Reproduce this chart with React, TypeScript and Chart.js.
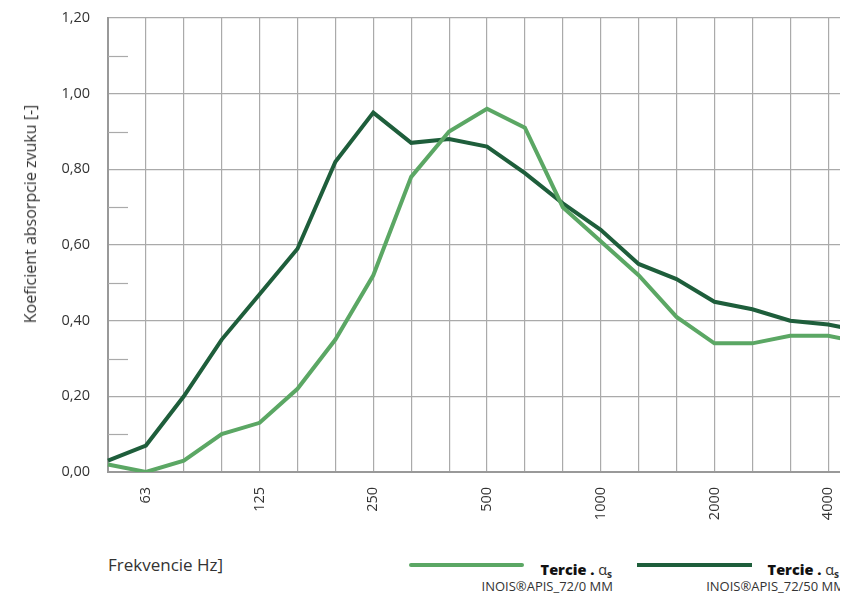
import React, { useEffect, useRef } from "react";
import { Chart, registerables } from "chart.js";

Chart.register(...registerables);

const frequencies = ["50", "63", "80", "100", "125", "160", "200", "250", "315", "400", "500", "630", "800", "1000", "1250", "1600", "2000", "2500", "3150", "4000", "5000"];
const series0mm = [0.02, 0.0, 0.03, 0.1, 0.13, 0.22, 0.35, 0.52, 0.78, 0.9, 0.96, 0.91, 0.7, 0.61, 0.52, 0.41, 0.34, 0.34, 0.36, 0.36, 0.34];
const series50mm = [0.03, 0.07, 0.2, 0.35, 0.47, 0.59, 0.82, 0.95, 0.87, 0.88, 0.86, 0.79, 0.71, 0.64, 0.55, 0.51, 0.45, 0.43, 0.4, 0.39, 0.37];
const minorTicks = [0.1, 0.3, 0.5, 0.7, 0.9, 1.1];
const seriesNames = ["INOIS®APIS_72/0 MM", "INOIS®APIS_72/50 MM"];

const LIGHT = "#5ba764";
const DARK = "#1e5e3b";
const FONT = "'Open Sans', 'Noto Sans', sans-serif";

const minorTickPlugin = {
  id: "minorTicks",
  afterDatasetsDraw(chart: any) {
    const y = chart.scales.y;
    const ctx = chart.ctx;
    const left = chart.chartArea.left;
    ctx.save();
    ctx.strokeStyle = "#aaaaaa";
    ctx.lineWidth = 1.2;
    minorTicks.forEach((v) => {
      const py = Math.round(y.getPixelForValue(v)) + 0.5;
      ctx.beginPath();
      ctx.moveTo(left, py);
      ctx.lineTo(left + 20, py);
      ctx.stroke();
    });
    ctx.restore();
  },
};

export default function App() {
  const ref = useRef<HTMLCanvasElement | null>(null);

  useEffect(() => {
    if (!ref.current) return;
    const chart = new Chart(ref.current, {
      type: "line",
      data: {
        labels: frequencies,
        datasets: [
          {
            label: seriesNames[0],
            data: series0mm,
            borderColor: LIGHT,
            backgroundColor: LIGHT,
            borderWidth: 4,
            pointRadius: 0,
            tension: 0,
          },
          {
            label: seriesNames[1],
            data: series50mm,
            borderColor: DARK,
            backgroundColor: DARK,
            borderWidth: 4,
            pointRadius: 0,
            tension: 0,
          },
        ],
      },
      options: {
        animation: false,
        responsive: false,
        maintainAspectRatio: false,
        layout: { padding: { top: 10, right: 22, left: 0, bottom: 0 } },
        plugins: {
          legend: { display: false },
          tooltip: { enabled: false },
        },
        scales: {
          x: {
            offset: false,
            grid: { color: "#aaaaaa", lineWidth: 1.2, drawTicks: false },
            border: { color: "#999999", width: 2 },
            ticks: {
              autoSkip: false,
              maxRotation: 90,
              minRotation: 90,
              padding: 15,
              color: "#333333",
              font: { family: FONT, size: 14.5 },
              callback: (_v: any, i: number) => (i % 3 === 1 ? frequencies[i] : ""),
            },
            afterFit: (s: any) => {
              s.height = 76;
              s.paddingLeft = 0;
              s.paddingRight = 0;
            },
          },
          y: {
            min: 0,
            max: 1.2,
            grid: { color: "#aaaaaa", lineWidth: 1.2, drawTicks: false },
            border: { color: "#999999", width: 2 },
            ticks: {
              stepSize: 0.2,
              padding: 18,
              color: "#333333",
              font: { family: FONT, size: 14.5 },
              callback: (v: any) => Number(v).toFixed(2).replace(".", ","),
            },
            afterFit: (s: any) => {
              s.width = 100;
              s.paddingTop = 0;
              s.paddingBottom = 0;
            },
          },
        },
      },
      plugins: [minorTickPlugin],
    } as any);
    return () => chart.destroy();
  }, []);

  const legendLine = (color: string, left: number, round: boolean) => (
    <div
      style={{
        position: "absolute",
        left,
        top: 555,
        width: 115,
        height: 4,
        background: color,
        borderRadius: round ? 2 : 0,
      }}
    />
  );

  const legendTitle = (right: number) => (
    <div
      style={{
        position: "absolute",
        right,
        top: 552,
        fontFamily: FONT,
        fontSize: 14.5,
        lineHeight: "19px",
        color: "#333",
        whiteSpace: "nowrap",
      }}
    >
      <span style={{ fontWeight: 800, color: "#111" }}>Tercie .</span>{" "}
      <span>α</span>
      <span style={{ fontSize: 10, fontWeight: 700, position: "relative", top: 3 }}>s</span>
    </div>
  );

  const legendName = (right: number, name: string) => (
    <div
      style={{
        position: "absolute",
        right,
        top: 570,
        fontFamily: FONT,
        fontSize: 13,
        lineHeight: "17px",
        color: "#333",
        whiteSpace: "nowrap",
      }}
    >
      {name}
    </div>
  );

  return (
    <div style={{ position: "relative", width: 840, height: 587, overflow: "hidden" }}>
      <canvas ref={ref} width={880} height={540} style={{ position: "absolute", left: 0, top: 0, width: 880, height: 540 }} />
      <div
        style={{
          position: "absolute",
          left: 22,
          top: 206,
          transform: "translate(-50%, -50%) rotate(-90deg)",
          whiteSpace: "nowrap",
          fontFamily: FONT,
          fontSize: 16,
          color: "#333",
        }}
      >
        Koeficient absorpcie zvuku [-]
      </div>
      <div
        style={{
          position: "absolute",
          left: 100,
          top: 547,
          fontFamily: FONT,
          fontSize: 17,
          lineHeight: "20px",
          color: "#333",
          whiteSpace: "nowrap",
        }}
      >
        Frekvencie Hz]
      </div>
      {legendLine(LIGHT, 401, true)}
      {legendTitle(236)}
      {legendName(235, seriesNames[0])}
      {legendLine(DARK, 629, false)}
      {legendTitle(9)}
      {legendName(3, seriesNames[1])}
    </div>
  );
}
